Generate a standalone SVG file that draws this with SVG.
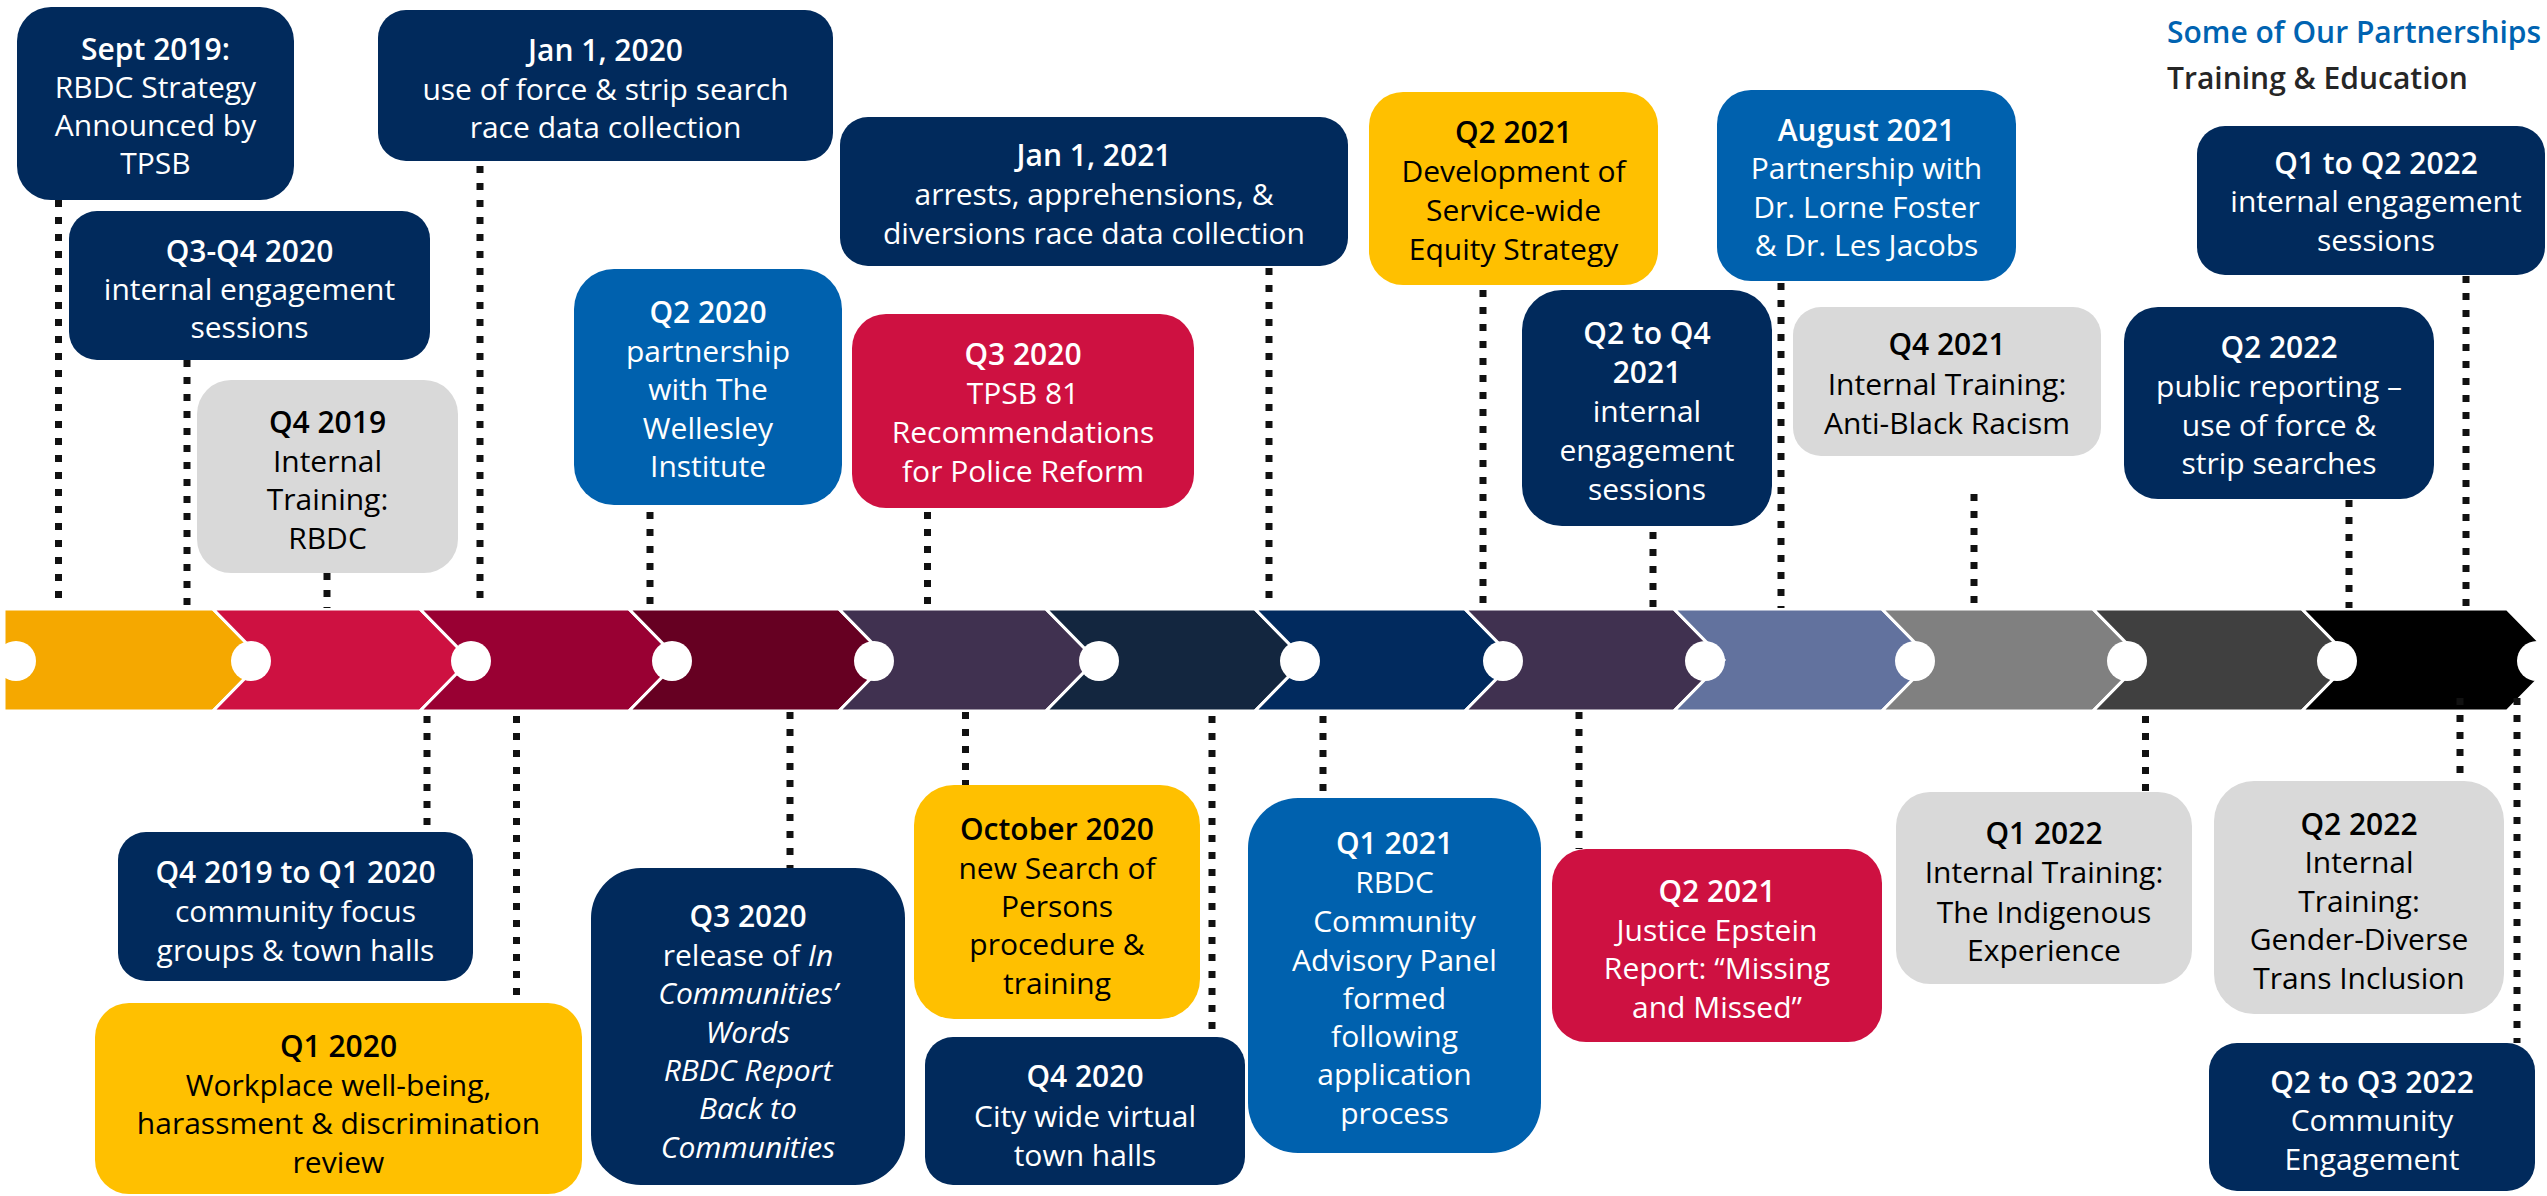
<svg xmlns="http://www.w3.org/2000/svg" width="2547" height="1196" viewBox="0 0 2547 1196">
<style>
text{font-family:"Open Sans","Noto Sans",sans-serif;font-size:30px;text-anchor:middle}
.w{fill:#fff}.k{fill:#000}
.t{font-weight:600}
.i{font-style:italic}
.navy{fill:#012A5C}.blue{fill:#0061AE}.red{fill:#CE1141}.yel{fill:#FFC000}.gray{fill:#D9D9D9}
.seg{stroke:#fff;stroke-width:3;stroke-linejoin:miter}
.c{stroke:#111;stroke-width:7;stroke-dasharray:7 10;fill:none}
.lg{text-anchor:start;font-weight:600;font-size:30px}
</style>
<rect width="2547" height="1196" fill="#fff"/>
<g id="timeline">
<polygon class="seg" fill="#F5A800" points="4,609 213,609 263,660 213,711 4,711"/>
<polygon class="seg" fill="#CE1141" points="213,609 420,609 470,660 420,711 213,711 263,660"/>
<polygon class="seg" fill="#990033" points="420,609 629,609 679,660 629,711 420,711 470,660"/>
<polygon class="seg" fill="#660022" points="629,609 839,609 889,660 839,711 629,711 679,660"/>
<polygon class="seg" fill="#403150" points="839,609 1046,609 1096,660 1046,711 839,711 889,660"/>
<polygon class="seg" fill="#13263F" points="1046,609 1255,609 1305,660 1255,711 1046,711 1096,660"/>
<polygon class="seg" fill="#012A5E" points="1255,609 1465,609 1515,660 1465,711 1255,711 1305,660"/>
<polygon class="seg" fill="#403150" points="1465,609 1674,609 1724,660 1674,711 1465,711 1515,660"/>
<polygon class="seg" fill="#62729E" points="1674,609 1882,609 1932,660 1882,711 1674,711 1724,660"/>
<polygon class="seg" fill="#808080" points="1882,609 2093,609 2143,660 2093,711 1882,711 1932,660"/>
<polygon class="seg" fill="#404040" points="2093,609 2302,609 2352,660 2302,711 2093,711 2143,660"/>
<polygon class="seg" fill="#000" points="2302,609 2507,609 2557,660 2507,711 2302,711 2352,660"/>
<g fill="#fff">
<circle cx="16" cy="661" r="20"/><circle cx="251" cy="661" r="20"/><circle cx="471" cy="661" r="20"/><circle cx="672" cy="661" r="20"/><circle cx="874" cy="661" r="20"/><circle cx="1099" cy="661" r="20"/><circle cx="1300" cy="661" r="20"/><circle cx="1503" cy="661" r="20"/><circle cx="1705" cy="661" r="20"/><circle cx="1915" cy="661" r="20"/><circle cx="2127" cy="661" r="20"/><circle cx="2337" cy="661" r="20"/><circle cx="2537" cy="661" r="20"/>
</g>
</g>
<g id="connectors">
<path class="c" d="M58.5 200V608M187 360V608M327 573V608M480 166V608M650 512V608M1269 268V608M927.5 512V608M1483 290V608M1653 532V608M1781 283V608M1974 494V608M2349 500V608M2466 276V608"/>
<path class="c" d="M427 716V832M516.5 716V1003M790 712V868M965.5 712V785M1212 716V1037M1323 716V798M1579 712V849M2145.5 716V792M2460 698V781M2517 698V1043"/>
</g>
<g id="legend">
<text class="lg" x="2167" y="43" fill="#0063B1">Some of Our Partnerships</text>
<text class="lg" x="2167" y="89" fill="#262626">Training &amp; Education</text>
</g>
<g id="n-sept2019"><rect class="navy" x="17" y="7" width="277" height="193" rx="34"/>
<text class="w t" x="155.5" y="60">Sept 2019:</text><text class="w" x="155.5" y="98">RBDC Strategy</text><text class="w" x="155.5" y="136">Announced by</text><text class="w" x="155.5" y="174">TPSB</text></g>
<g id="n-q3q4-2020"><rect class="navy" x="69" y="211" width="361" height="149" rx="28"/>
<text class="w t" x="249.5" y="262">Q3-Q4 2020</text><text class="w" x="249.5" y="300">internal engagement</text><text class="w" x="249.5" y="338">sessions</text></g>
<g id="n-q4-2019"><rect class="gray" x="197" y="380" width="261" height="193" rx="34"/>
<text class="k t" x="327.5" y="433">Q4 2019</text><text class="k" x="327.5" y="472">Internal</text><text class="k" x="327.5" y="510">Training:</text><text class="k" x="327.5" y="549">RBDC</text></g>
<g id="n-jan2020"><rect class="navy" x="378" y="10" width="455" height="151" rx="28"/>
<text class="w t" x="605.5" y="61">Jan 1, 2020</text><text class="w" x="605.5" y="100">use of force &amp; strip search</text><text class="w" x="605.5" y="138">race data collection</text></g>
<g id="n-q2-2020"><rect class="blue" x="574" y="269" width="268" height="236" rx="40"/>
<text class="w t" x="708" y="323">Q2 2020</text><text class="w" x="708" y="362">partnership</text><text class="w" x="708" y="400">with The</text><text class="w" x="708" y="439">Wellesley</text><text class="w" x="708" y="477">Institute</text></g>
<g id="n-jan2021"><rect class="navy" x="840" y="117" width="508" height="149" rx="28"/>
<text class="w t" x="1094" y="166">Jan 1, 2021</text><text class="w" x="1094" y="205">arrests, apprehensions, &amp;</text><text class="w" x="1094" y="244">diversions race data collection</text></g>
<g id="n-q3-2020a"><rect class="red" x="852" y="314" width="342" height="194" rx="34"/>
<text class="w t" x="1023" y="365">Q3 2020</text><text class="w" x="1023" y="404">TPSB 81</text><text class="w" x="1023" y="443">Recommendations</text><text class="w" x="1023" y="482">for Police Reform</text></g>
<g id="n-q2-2021a"><rect class="yel" x="1369" y="92" width="289" height="193" rx="34"/>
<text class="k t" x="1513.5" y="143">Q2 2021</text><text class="k" x="1513.5" y="182">Development of</text><text class="k" x="1513.5" y="221">Service-wide</text><text class="k" x="1513.5" y="260">Equity Strategy</text></g>
<g id="n-q2q4-2021"><rect class="navy" x="1522" y="290" width="250" height="236" rx="40"/>
<text class="w t" x="1647" y="344">Q2 to Q4</text><text class="w t" x="1647" y="383">2021</text><text class="w" x="1647" y="422">internal</text><text class="w" x="1647" y="461">engagement</text><text class="w" x="1647" y="500">sessions</text></g>
<g id="n-aug2021"><rect class="blue" x="1717" y="90" width="299" height="191" rx="34"/>
<text class="w t" x="1866.5" y="141">August 2021</text><text class="w" x="1866.5" y="179">Partnership with</text><text class="w" x="1866.5" y="218">Dr. Lorne Foster</text><text class="w" x="1866.5" y="256">&amp; Dr. Les Jacobs</text></g>
<g id="n-q4-2021"><rect class="gray" x="1793" y="307" width="308" height="149" rx="28"/>
<text class="k t" x="1947" y="355">Q4 2021</text><text class="k" x="1947" y="395">Internal Training:</text><text class="k" x="1947" y="434">Anti-Black Racism</text></g>
<g id="n-q1q2-2022"><rect class="navy" x="2197" y="126" width="348" height="149" rx="28"/>
<text class="w t" x="2376" y="174">Q1 to Q2 2022</text><text class="w" x="2376" y="212">internal engagement</text><text class="w" x="2376" y="251">sessions</text></g>
<g id="n-q2-2022a"><rect class="navy" x="2124" y="307" width="310" height="192" rx="34"/>
<text class="w t" x="2279" y="358">Q2 2022</text><text class="w" x="2279" y="397">public reporting –</text><text class="w" x="2279" y="436">use of force &amp;</text><text class="w" x="2279" y="474">strip searches</text></g>
<g id="n-q4-2019-q1-2020"><rect class="navy" x="118" y="832" width="355" height="149" rx="28"/>
<text class="w t" x="295.5" y="883">Q4 2019 to Q1 2020</text><text class="w" x="295.5" y="922">community focus</text><text class="w" x="295.5" y="961">groups &amp; town halls</text></g>
<g id="n-q1-2020"><rect class="yel" x="95" y="1003" width="487" height="191" rx="34"/>
<text class="k t" x="338.5" y="1057">Q1 2020</text><text class="k" x="338.5" y="1096">Workplace well-being,</text><text class="k" x="338.5" y="1134">harassment &amp; discrimination</text><text class="k" x="338.5" y="1173">review</text></g>
<g id="n-q3-2020b"><rect class="navy" x="591" y="868" width="314" height="317" rx="50"/>
<text class="w t" x="748" y="927">Q3 2020</text><text class="w" x="748" y="966">release of <tspan class="i">In</tspan></text><text class="w i" x="748" y="1004">Communities’</text><text class="w i" x="748" y="1043">Words</text><text class="w i" x="748" y="1081">RBDC Report</text><text class="w i" x="748" y="1119">Back to</text><text class="w i" x="748" y="1158">Communities</text></g>
<g id="n-oct2020"><rect class="yel" x="914" y="785" width="286" height="234" rx="40"/>
<text class="k t" x="1057" y="840">October 2020</text><text class="k" x="1057" y="879">new Search of</text><text class="k" x="1057" y="917">Persons</text><text class="k" x="1057" y="955">procedure &amp;</text><text class="k" x="1057" y="994">training</text></g>
<g id="n-q4-2020"><rect class="navy" x="925" y="1037" width="320" height="148" rx="28"/>
<text class="w t" x="1085" y="1087">Q4 2020</text><text class="w" x="1085" y="1127">City wide virtual</text><text class="w" x="1085" y="1166">town halls</text></g>
<g id="n-q1-2021"><rect class="blue" x="1248" y="798" width="293" height="355" rx="50"/>
<text class="w t" x="1394.5" y="854">Q1 2021</text><text class="w" x="1394.5" y="893">RBDC</text><text class="w" x="1394.5" y="932">Community</text><text class="w" x="1394.5" y="971">Advisory Panel</text><text class="w" x="1394.5" y="1009">formed</text><text class="w" x="1394.5" y="1047">following</text><text class="w" x="1394.5" y="1085">application</text><text class="w" x="1394.5" y="1124">process</text></g>
<g id="n-q2-2021b"><rect class="red" x="1552" y="849" width="330" height="193" rx="34"/>
<text class="w t" x="1717" y="902">Q2 2021</text><text class="w" x="1717" y="941">Justice Epstein</text><text class="w" x="1717" y="979">Report: “Missing</text><text class="w" x="1717" y="1018">and Missed”</text></g>
<g id="n-q1-2022"><rect class="gray" x="1896" y="792" width="296" height="192" rx="34"/>
<text class="k t" x="2044" y="844">Q1 2022</text><text class="k" x="2044" y="883">Internal Training:</text><text class="k" x="2044" y="923">The Indigenous</text><text class="k" x="2044" y="961">Experience</text></g>
<g id="n-q2-2022b"><rect class="gray" x="2214" y="781" width="290" height="233" rx="40"/>
<text class="k t" x="2359" y="835">Q2 2022</text><text class="k" x="2359" y="873">Internal</text><text class="k" x="2359" y="912">Training:</text><text class="k" x="2359" y="950">Gender-Diverse</text><text class="k" x="2359" y="989">Trans Inclusion</text></g>
<g id="n-q2q3-2022"><rect class="navy" x="2209" y="1043" width="326" height="148" rx="28"/>
<text class="w t" x="2372" y="1093">Q2 to Q3 2022</text><text class="w" x="2372" y="1131">Community</text><text class="w" x="2372" y="1170">Engagement</text></g>
</svg>
